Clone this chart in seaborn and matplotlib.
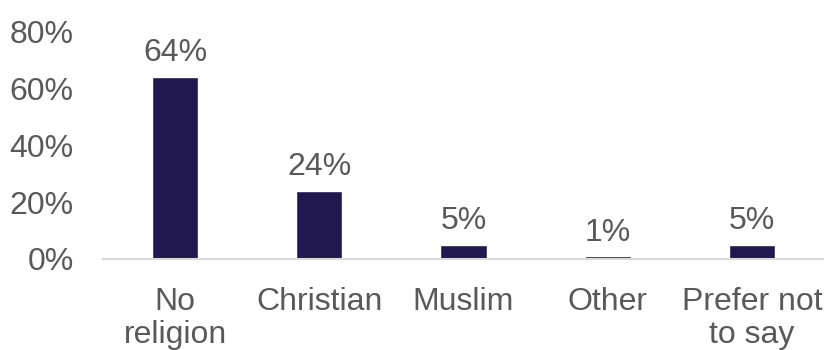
import matplotlib
matplotlib.use("Agg")
import matplotlib.pyplot as plt
import seaborn as sns
import pandas as pd

categories = ["No\nreligion", "Christian", "Muslim", "Other", "Prefer not\nto say"]
values = [64, 24, 5, 1, 5]

bar_color = "#211850"
text_color = "#595959"

sns.set_theme(style="white")
plt.rcParams["font.family"] = ["Liberation Sans", "DejaVu Sans"]

df = pd.DataFrame({"religion": categories, "share": values})

fig = plt.figure(figsize=(8.24, 3.5), dpi=100)
ax = fig.add_axes([0.125, 0.26, 0.875, 0.651])

sns.barplot(data=df, x="religion", y="share", color=bar_color,
            width=0.32, saturation=1, ax=ax)

for patch, v in zip(ax.patches, values):
    ax.annotate(f"{v}%", (patch.get_x() + patch.get_width() / 2, v),
                xytext=(0, 6), textcoords="offset points",
                ha="center", va="bottom", fontsize=23, color=text_color)

ax.set_ylim(0, 80)
ax.set_yticks([0, 20, 40, 60, 80])
ax.set_yticklabels([f"{t}%" for t in [0, 20, 40, 60, 80]])
ax.set_xlim(-0.5, len(categories) - 0.5)
ax.set_xlabel("")
ax.set_ylabel("")
ax.tick_params(axis="both", length=0, labelsize=23, labelcolor=text_color)
ax.tick_params(axis="x", pad=20)
ax.tick_params(axis="y", pad=21)
for lbl in ax.get_xticklabels():
    lbl.set_linespacing(1.12)

for side in ["left", "right", "top"]:
    ax.spines[side].set_visible(False)
ax.spines["bottom"].set_color("#d9d9d9")
ax.spines["bottom"].set_linewidth(1.5)

fig.savefig("out.png", dpi=100, facecolor="white")
